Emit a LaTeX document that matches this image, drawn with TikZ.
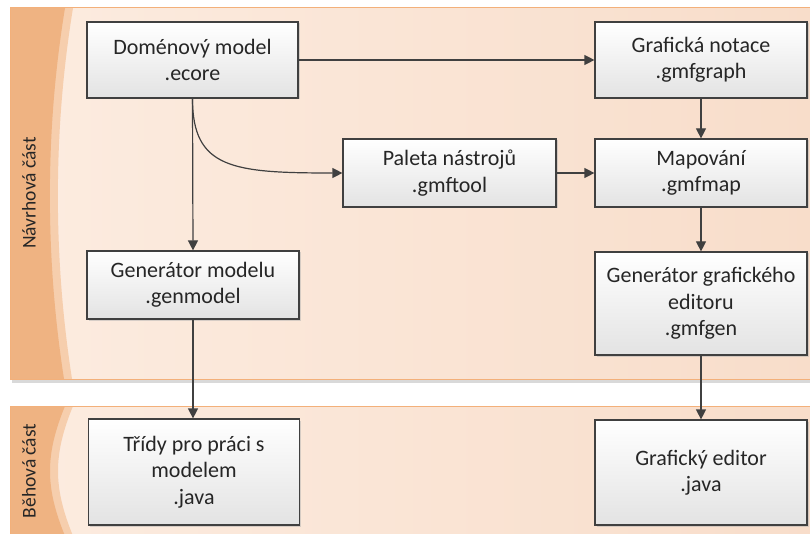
\documentclass[tikz,border=0pt]{standalone}
\usepackage{fontspec}
\setmainfont{Carlito}
\usetikzlibrary{arrows.meta,shadows}

\definecolor{bandDark}{RGB}{239,179,130}
\definecolor{bandMid}{RGB}{246,206,173}
\definecolor{paleL}{RGB}{252,236,224}
\definecolor{paleR}{RGB}{248,221,202}
\definecolor{bandEdge}{RGB}{243,176,122}
\definecolor{lineGray}{RGB}{64,64,64}
\definecolor{txt}{RGB}{38,38,38}

\tikzset{
  box/.style={draw=lineGray, line width=1.2pt, top color=white, bottom color=black!11,
    drop shadow={shadow xshift=1.5pt, shadow yshift=-1.5pt, fill=black!30, opacity=0.5},
    align=center, text=txt, font=\fontsize{22}{26.5}\selectfont, inner sep=0pt},
  link/.style={draw=lineGray, line width=1.2pt, -{Triangle[length=10pt,width=10pt]}},
  lanelabel/.style={rotate=90, text=txt, font=\fontsize{19.5}{22}\selectfont}
}

\begin{document}
\begin{tikzpicture}[x=1pt, y=-1pt]
\useasboundingbox (0,0) rectangle (810,534);

% design-time lane
\fill[black!15] (12,11) rectangle (815,382.5);
\shade[left color=paleL, right color=paleR] (10,8) rectangle (815,379);
\fill[bandMid] (10,8) -- (73,8) .. controls (53,130) and (53,257) .. (72,379) -- (10,379) -- cycle;
\fill[bandDark] (10,8) -- (65,8) .. controls (45,130) and (45,257) .. (64,379) -- (10,379) -- cycle;
\draw[bandEdge, line width=1pt] (10,8) rectangle (815,379);

% run-time lane
\shade[left color=paleL, right color=paleR] (10,406) rectangle (815,540);
\fill[bandMid] (10,406) -- (73,406) .. controls (53,455) and (53,487) .. (73,536) -- (10,536) -- cycle;
\fill[bandDark] (10,406) -- (65,406) .. controls (45,455) and (45,487) .. (65,536) -- (10,536) -- cycle;
\draw[bandEdge, line width=1pt] (10,406) rectangle (815,540);

\node[lanelabel] (lblDesign) at (29,193) {Návrhová část};
\node[lanelabel] (lblRun) at (29,471) {Běhová část};

% artefacts
\node[box, minimum width=211pt, minimum height=76pt] (dom) at (192.5,60) {Doménový model\\.ecore};
\node[box, minimum width=212pt, minimum height=76pt] (graf) at (701,60) {Grafická notace\\.gmfgraph};
\node[box, minimum width=213pt, minimum height=68pt] (pal) at (449.5,173) {Paleta nástrojů\\.gmftool};
\node[box, minimum width=212pt, minimum height=68pt] (map) at (701,173) {Mapování\\.gmfmap};
\node[box, minimum width=212pt, minimum height=68pt] (genm) at (193,285) {Generátor modelu\\.genmodel};
\node[box, minimum width=212pt, minimum height=103pt] (geng) at (701,303.5) {Generátor grafického\\editoru\\.gmfgen};
\node[box, minimum width=211pt, minimum height=106pt] (tridy) at (194,472) {Třídy pro práci s\\modelem\\.java};
\node[box, minimum width=212pt, minimum height=105pt] (ged) at (701,472.5) {Grafický editor\\.java};

% dependencies
\draw[link] (dom.east) -- (graf.west);
\draw[link] (dom.south) -- (genm.north);
\draw[link] (dom.south) .. controls +(0,70) and +(-110,0) .. (pal.west);
\draw[link] (pal.east) -- (map.west);
\draw[link] (graf.south) -- (map.north);
\draw[link] (map.south) -- (geng.north);
\draw[link] (geng.south) -- (ged.north);
\draw[link] (genm.south) -- (genm.south |- tridy.north);
\end{tikzpicture}
\end{document}
